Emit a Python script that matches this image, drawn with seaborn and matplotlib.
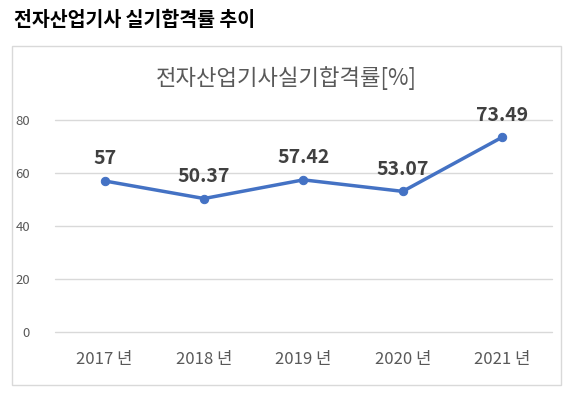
import matplotlib
matplotlib.use('Agg')
import matplotlib.pyplot as plt
import matplotlib.patches as patches
import seaborn as sns
import pandas as pd

years = ['2017 년', '2018 년', '2019 년', '2020 년', '2021 년']
rates = [57, 50.37, 57.42, 53.07, 73.49]
rate_labels = ['57', '50.37', '57.42', '53.07', '73.49']
y_ticks = [0, 20, 40, 60, 80]

sns.set_theme(style='white')
plt.rcParams['font.family'] = ['Noto Sans CJK KR', 'DejaVu Sans']

df = pd.DataFrame({'year': years, 'rate': rates})

fig = plt.figure(figsize=(5.7, 3.97), dpi=100)
ax = fig.add_axes([0.0965, 0.1637, 0.8715, 0.534])

# outer chart box
box = patches.Rectangle((12 / 570, 1 - 385 / 397), 549 / 570, 339 / 397,
                        transform=fig.transFigure, fill=False,
                        edgecolor='#D9D9D9', linewidth=1)
fig.patches.append(box)

sns.lineplot(data=df, x='year', y='rate', ax=ax, color='#4472C4',
             linewidth=2.5, marker='o', markersize=6,
             markeredgecolor='#4472C4', sort=False)

for i, (v, lab) in enumerate(zip(rates, rate_labels)):
    ax.annotate(lab, (i, v), xytext=(0, 9), textcoords='offset points',
                ha='center', va='bottom', fontsize=14, fontweight='bold',
                color='#404040')

ax.set_xlim(-0.5, 4.5)
ax.set_ylim(0, 80)
ax.set_yticks(y_ticks)
ax.yaxis.grid(True, color='#D9D9D9', linewidth=1)
for gl in ax.get_ygridlines():
    gl.set_clip_on(False)
ax.set_axisbelow(True)
for s in ax.spines.values():
    s.set_visible(False)
ax.tick_params(axis='y', colors='#595959', labelsize=9.5, length=0, pad=18)
ax.tick_params(axis='x', colors='#595959', labelsize=12, length=0, pad=14)
ax.set_xlabel('')
ax.set_ylabel('')

fig.text(0.5 * (155 + 418) / 570, 1 - 78 / 397, '전자산업기사실기합격률[%]',
         ha='center', va='center', fontsize=16, color='#595959')
fig.text(14 / 570, 1 - 20 / 397, '전자산업기사 실기합격률 추이',
         ha='left', va='center', fontsize=14, fontweight='bold', color='black')

fig.savefig('out.png', dpi=100, facecolor='white')
